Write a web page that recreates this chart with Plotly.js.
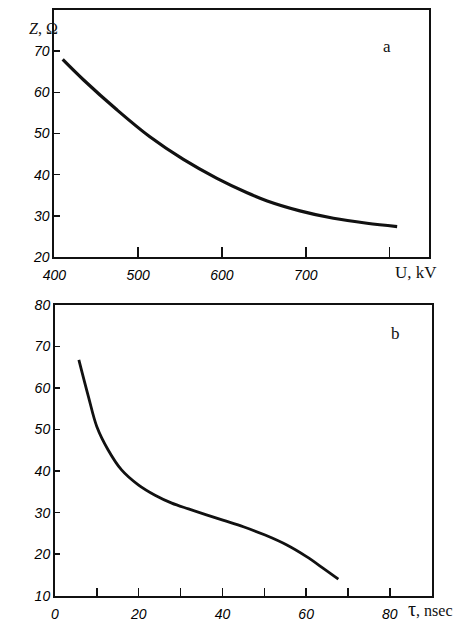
<!DOCTYPE html>
<html>
<head>
<meta charset="utf-8">
<script src="https://cdn.plot.ly/plotly-3.0.1.min.js"></script>
<style>
  html, body { margin: 0; padding: 0; background: #fff; }
  #chart { width: 470px; height: 621px; }
</style>
</head>
<body>
<div id="chart"></div>
<script>
// (a) impedance vs. voltage
const voltageKV = [410, 435, 475, 514, 554, 594, 630, 654, 693, 733, 773, 809];
const impedanceA = [68.0, 63.0, 55.7, 49.2, 43.7, 39.1, 35.6, 33.6, 31.2, 29.4, 28.2, 27.4];

// (b) impedance vs. pulse duration
const tauNs = [5.7, 8.0, 10.0, 12.7, 15.9, 19.9, 23.9, 27.9, 31.9, 40.1, 45.0, 50.2, 55.4, 60.1, 64.1, 67.7];
const impedanceB = [66.8, 57.9, 50.7, 45.1, 40.3, 36.7, 34.2, 32.3, 30.9, 28.2, 26.6, 24.6, 22.2, 19.4, 16.6, 14.0];

// tick values and labels
const xTicksA = [400, 500, 600, 700, 800];
const xTextA = ['400', '500', '600', '700', ''];
const yTicksA = [20, 30, 40, 50, 60, 70];
const yTextA = ['20', '30', '40', '50', '60', '70'];
const xTicksB = [0, 10, 20, 30, 40, 50, 60, 70, 80];
const xTextB = ['0', '', '20', '', '40', '', '60', '', '80'];
const yTicksB = [10, 20, 30, 40, 50, 60, 70, 80];
const yTextB = ['10', '20', '30', '40', '50', '60', '70', '80'];

const italic = arr => arr.map(t => (t ? '<i>' + t + '</i>' : ''));

const W = 470, H = 621;
const tickFont = { family: 'Liberation Sans, Arial, sans-serif', size: 14, color: '#000' };
const serif = 'Liberation Serif, DejaVu Serif, serif';

function axisBase(extra) {
  return Object.assign({
    showgrid: false, zeroline: false, showline: true, mirror: true,
    linecolor: '#111', linewidth: 2, ticks: 'inside', tickcolor: '#111',
    tickwidth: 1.5, tickmode: 'array', tickfont: tickFont, automargin: false,
    fixedrange: true
  }, extra);
}

const traces = [
  { x: voltageKV, y: impedanceA, xaxis: 'x', yaxis: 'y', mode: 'lines',
    line: { color: '#111', width: 3.2, shape: 'spline', smoothing: 1 }, hoverinfo: 'skip' },
  { x: tauNs, y: impedanceB, xaxis: 'x2', yaxis: 'y2', mode: 'lines',
    line: { color: '#111', width: 2.8, shape: 'spline', smoothing: 1 }, hoverinfo: 'skip' }
];

const layout = {
  width: W, height: H,
  margin: { l: 0, r: 0, t: 0, b: 0 },
  paper_bgcolor: '#fff', plot_bgcolor: '#fff',
  showlegend: false,
  xaxis: axisBase({ domain: [54.3 / W, 429 / W], range: [400, 847], anchor: 'y',
    tickvals: xTicksA, ticktext: italic(xTextA), ticklen: 10, ticklabelstandoff: 4 }),
  yaxis: axisBase({ domain: [1 - 257 / H, 1 - 10 / H], range: [20, 80], anchor: 'x',
    tickvals: yTicksA, ticktext: italic(yTextA), ticklen: 6 }),
  xaxis2: axisBase({ domain: [55 / W, 431.7 / W], range: [0, 90], anchor: 'y2',
    tickvals: xTicksB, ticktext: italic(xTextB), ticklen: 8, ticklabelstandoff: 4 }),
  yaxis2: axisBase({ domain: [1 - 595.7 / H, 1 - 305 / H], range: [10, 80], anchor: 'x2',
    tickvals: yTicksB, ticktext: italic(yTextB), ticklen: 5 }),
  annotations: [
    { xref: 'paper', yref: 'paper', x: 27 / W, y: 1 - 18 / H, text: '<i>Z</i>, Ω',
      showarrow: false, font: { family: serif, size: 16, color: '#111' } },
    { xref: 'paper', yref: 'paper', x: 393 / W, y: 1 - 35 / H, text: 'a',
      showarrow: false, font: { family: serif, size: 17, color: '#111' } },
    { xref: 'paper', yref: 'paper', x: 393 / W, y: 1 - 273 / H, text: 'U, kV',
      xanchor: 'left', yanchor: 'middle',
      showarrow: false, font: { family: serif, size: 17, color: '#111' } },
    { xref: 'paper', yref: 'paper', x: 402 / W, y: 1 - 333 / H, text: 'b',
      showarrow: false, font: { family: serif, size: 17, color: '#111' } },
    { xref: 'paper', yref: 'paper', x: 406 / W, y: 1 - 609 / H,
      text: '<span style="font-size:20px">τ</span>, nsec',
      xanchor: 'left', yanchor: 'middle',
      showarrow: false, font: { family: serif, size: 16, color: '#111' } }
  ]
};

Plotly.newPlot('chart', traces, layout, { staticPlot: true, displayModeBar: false });
</script>
</body>
</html>
